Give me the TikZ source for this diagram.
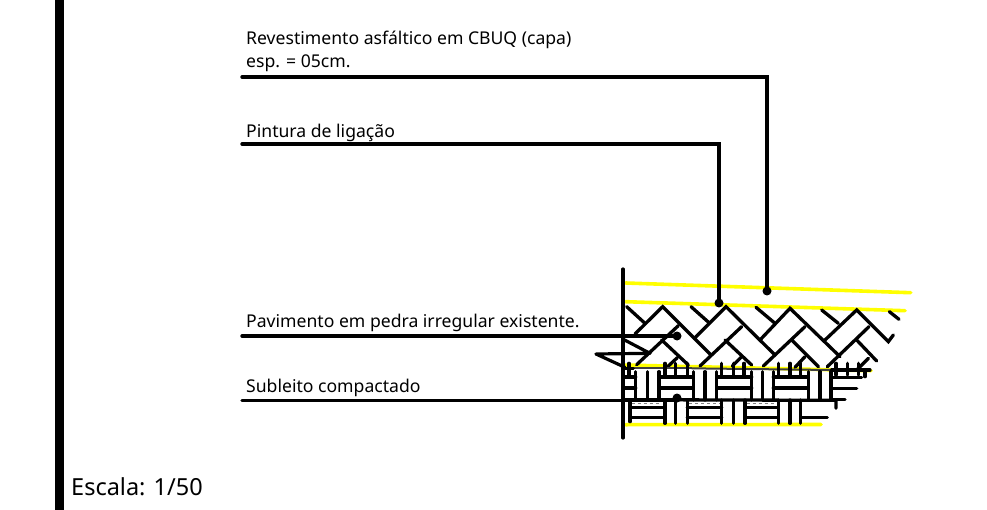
\documentclass[tikz,border=0pt]{standalone}
\usepackage{fontspec}
\setmainfont{Noto Sans}
\definecolor{hatchyellow}{RGB}{255,255,0}
\tikzset{
  lbl/.style={anchor=base west,inner sep=0pt,font=\fontsize{17.6}{23}\selectfont},
  leader/.style={line width=3.4pt,line cap=round,line join=miter},
  dotend/.style={circle,fill=black,inner sep=0pt,minimum size=9pt},
  layer/.style={line width=3.6pt,hatchyellow,line cap=round},
  hatch/.style={line width=3.3pt,line cap=round,black},
  wall/.style={line width=3.2pt,line cap=round,line join=round,black}
}
\begin{document}
\begin{tikzpicture}[x=1pt,y=-1pt]
\useasboundingbox (0,0) rectangle (987,510);
\fill[white] (0,0) rectangle (987,510);
\fill[black] (55,0) rectangle (64,510);
% yellow layers
\draw[layer] (625.7,283) -- (910.7,292.7);
\draw[layer] (625.7,301.7) -- (905,310.7);
\draw[layer] (622,365) -- (871,370.7);
\draw[layer] (625.7,424.7) -- (821,424.5);
% hatches in zoom coordinates
\begin{scope}[xshift=590pt,yshift=-260pt,x=0.33333pt,y=-0.33333pt]
  % herringbone: short top lines
  \draw[hatch] (110,140) -- (165,190);
  \draw[hatch] (303,140) -- (357,188);
  \draw[hatch] (498,142) -- (555,190);
  \draw[hatch] (695,150) -- (745,190);
  \draw[hatch] (898,155) -- (927,178);
  % apexes
  \draw[hatch] (135,222) -- (218,140) -- (363,285);
  \draw[hatch] (313,235) -- (408,140) -- (555,285) ;
  \draw[hatch] (510,240) -- (600,145) -- (750,290);
  \draw[hatch] (705,240) -- (800,150) -- (895,245) -- (910,225);
  % parallel long lines
  \draw[hatch] (265,197) -- (140,314);
  \draw[hatch] (455,200) -- (330,318);
  \draw[hatch] (645,200) -- (520,318);
  \draw[hatch] (837,200) -- (712,320);
  % lower right-going
  \draw[hatch] (215,240) -- (295,315);
  \draw[hatch] (405,240) -- (485,315);
  \draw[hatch] (605,240) -- (685,320);
  \draw[hatch] (800,240) -- (860,303);
  % short lower
  \draw[hatch] (262,293) -- (235,318);
  \draw[hatch] (455,290) -- (427,318);
  \draw[hatch] (645,290) -- (615,322);
  \draw[hatch] (835,295) -- (800,330);
  % weave: top horizontal
  \draw[line width=2pt,black!75] (130,325) -- (305,325);
  \draw[line width=2pt,black!75] (305,325) -- (725,330);
  \draw[hatch] (725,330) -- (840,330);
  \draw[hatch] (103,325) -- (130,325);
  % short verticals above
  \foreach \x in {117,225,257,292,395,430,462,565,600,632,738,772,805}
    \draw[hatch] (\x,310) -- (\x,345);
  % vertical triples
  \foreach \x in {137,172,207,310,345,380,485,517,550,655,690,723}
    \draw[hatch] (\x,335) -- (\x,420);
  % horizontals in cells
  \foreach \a/\b in {105/137,207/310,380/485,550/655}{
    \draw[hatch] (\a,351) -- (\b,351);
    \draw[hatch] (\a,384) -- (\b,384);
  }
  \draw[hatch] (725,352) -- (815,352);
  \draw[hatch] (725,385) -- (800,385);
  \draw[hatch] (725,418) -- (765,418);
  \draw[hatch] (825,330) -- (825,350);
  % row boundary
  \draw[hatch] (105,419) -- (738,421) -- (738,445);
  \foreach \a/\b in {125/215,298/390,470/560}
    \draw[line width=1pt,black!50,dashed] (\a,432) -- (\b,432);
  % lower row
  \foreach \x in {225,257,292,395,430,465,565,600,632}
    \draw[hatch] (\x,420) -- (\x,490);
  \draw[hatch] (120,425) -- (120,485);
  \foreach \a/\b in {120/225,292/395,465/565}{
    \draw[hatch] (\a,443) -- (\b,443);
    \draw[hatch] (\a,472) -- (\b,472);
  }
  \draw[hatch] (632,472) -- (712,472);
  % wedge
  \draw[wall] (100,238) -- (180,280) -- (18,282) -- (105,322);
\end{scope}
% wall
\draw[wall] (623,269) -- (623,438);
% labels
\node[lbl,align=left] (capa) at (246,68) {Revestimento asfáltico em CBUQ (capa)\\esp. = 05cm.};
\node[lbl] (pintura) at (246,138) {Pintura de ligação};
\node[lbl] (pavimento) at (246,327) {Pavimento em pedra irregular existente.};
\node[lbl] (subleito) at (246,392) {Subleito compactado};
\node[anchor=base west,inner sep=0pt,font=\fontsize{23.5}{26}\selectfont] (escala) at (71,495) {Escala: 1/50};
% leaders
\node[dotend] (d1) at (767,291) {};
\node[dotend] (d2) at (719,303) {};
\node[dotend] (d3) at (677,336) {};
\node[dotend] (d4) at (677,398) {};
\coordinate (s1) at (242,77);
\coordinate (s2) at (242,144);
\coordinate (s3) at (242,336);
\coordinate (s4) at (242,400.5);
\draw[leader] (s1) -| (d1.center);
\draw[leader] (s2) -| (d2.center);
\draw[leader] (s3) -- (d3.center);
\draw[leader] (s4) -- (d4.center |- s4);
\end{tikzpicture}
\end{document}
